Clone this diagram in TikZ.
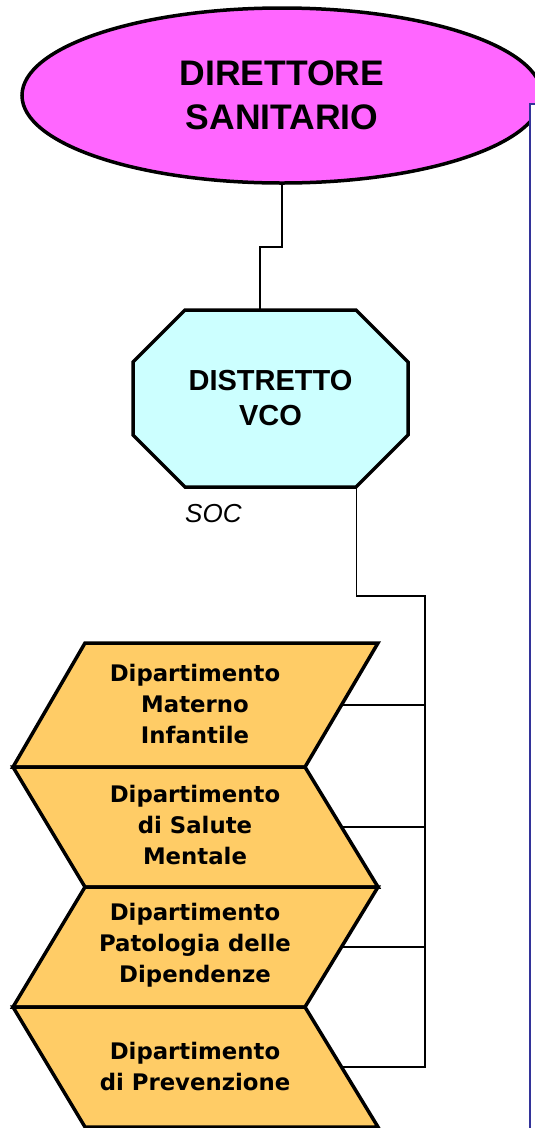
\documentclass[tikz,border=0pt]{standalone}
\usepackage{fontspec}
\setmainfont{Liberation Sans}
\newfontfamily\dejavu{DejaVu Sans}
\usetikzlibrary{shapes.geometric,calc}
\definecolor{mag}{HTML}{FF66FF}
\definecolor{cyanf}{HTML}{CCFFFF}
\definecolor{orangef}{HTML}{FFCC66}
\definecolor{blueline}{HTML}{333399}
\tikzset{
  thick3/.style={line width=3.5pt, line join=miter},
  conn/.style={line width=1.4pt},
  chev/.style={thick3, fill=orangef, draw=black},
  chevtext/.style={align=center, inner sep=0pt, font=\dejavu\bfseries\fontsize{22.8}{31}\selectfont},
}
\begin{document}
\begin{tikzpicture}[x=1pt,y=-1pt]
\useasboundingbox (0,0) rectangle (535,1128);
\clip (0,0) rectangle (535,1128);
% ellipse
\node[ellipse, draw=black, thick3, fill=mag, minimum width=520pt, minimum height=175pt, inner sep=0pt,
      align=center, font=\bfseries\fontsize{35.5}{44}\selectfont] (ell) at (282,95.5) {DIRETTORE\\SANITARIO};
% blue frame
\draw[blueline, fill=white, line width=1.5pt] (530,1140) -- (530,104) -- (545,104);
% octagon
\draw[thick3, fill=cyanf] (185,310) -- (356,310) -- (408,362) -- (408,435) -- (356,487) -- (185,487) -- (133,435) -- (133,362) -- cycle;
\node[minimum width=275pt, minimum height=177pt, inner sep=0pt, align=center,
      font=\bfseries\fontsize{29}{35}\selectfont] (oct) at (270.5,398.5) {DISTRETTO\\ VCO};
\node[anchor=base west, inner sep=0pt, font=\itshape\fontsize{26}{30}\selectfont] (soc) at (185,522) {SOC};
% chevrons
\draw[chev] (85,643) -- (378,643) -- (305,767) -- (13,767) -- cycle;
\draw[chev] (13,767) -- (305,767) -- (378,887) -- (85,887) -- cycle;
\draw[chev] (85,887) -- (378,887) -- (305,1007) -- (13,1007) -- cycle;
\draw[chev] (13,1007) -- (305,1007) -- (378,1127) -- (85,1127) -- cycle;
\node[chevtext] (d1) at (195,704) {Dipartimento\\Materno\\Infantile};
\node[chevtext] (d2) at (195,825) {Dipartimento\\di Salute\\Mentale};
\node[chevtext] (d3) at (195,945) {Dipartimento\\Patologia delle\\Dipendenze};
\node[chevtext] (d4) at (195,1066) {Dipartimento\\di Prevenzione};
\coordinate (r1) at (341.5,705);
\coordinate (r2) at (341.5,827);
\coordinate (r3) at (341.5,947);
\coordinate (r4) at (341.5,1067);
% connectors
\coordinate (j1) at (260,247);
\draw[conn] (ell.south) |- (j1) -- (j1 |- oct.north);
\coordinate (j2) at (425,596);
\draw[conn] ($(oct.south east)+(-52,0)$) |- (j2) -- (j2 |- r4) -- (r4);
\draw[conn] (r1) -- (r1 -| j2);
\draw[conn] (r2) -- (r2 -| j2);
\draw[conn] (r3) -- (r3 -| j2);
\end{tikzpicture}
\end{document}
